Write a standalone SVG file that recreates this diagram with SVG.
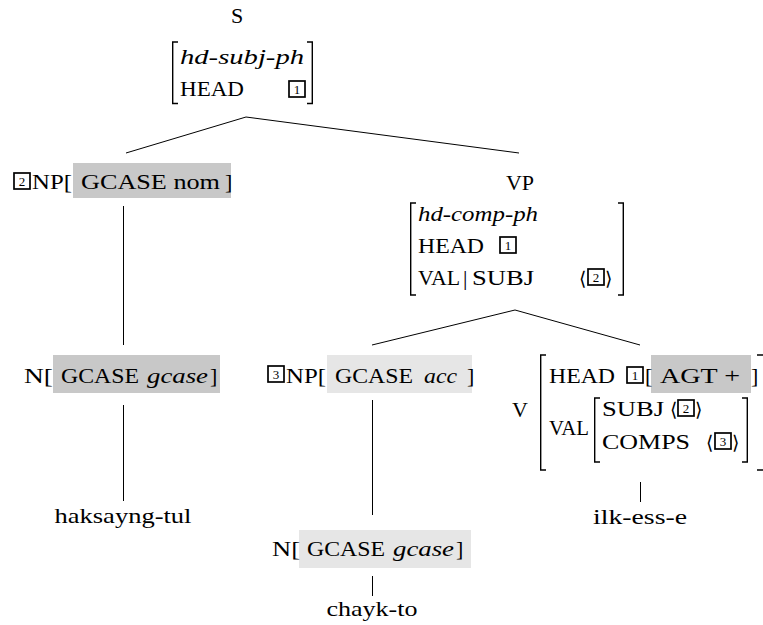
<svg xmlns="http://www.w3.org/2000/svg" width="763" height="625" viewBox="0 0 763 625" font-family="'Liberation Serif', 'Times New Roman', serif">
  <defs>
    <style>
      text { font-family: "Liberation Serif", "Times New Roman", serif; font-size: 22px; fill: #000; }
      .it { font-style: italic; }
      .mid { text-anchor: middle; }
      .tag { font-size: 13px; text-anchor: middle; }
      .box { fill: none; stroke: #000; stroke-width: 1.7; }
      .brk { fill: none; stroke: #000; stroke-width: 1.4; }
      .dark { fill: #c8c8c8; }
      .light { fill: #e6e6e6; }
      .edge { stroke: #000; stroke-width: 1; fill: none; }
      .ang { font-family: "DejaVu Serif", serif; font-size: 19px; }
    </style>
  </defs>
  <rect width="763" height="625" fill="#fff"/>

  <!-- tree branches -->
  <g id="connectors">
    <line class="edge" x1="246" y1="117" x2="126" y2="153"/>
    <line class="edge" x1="246" y1="117" x2="519" y2="153"/>
    <line class="edge" x1="123.5" y1="206" x2="123.5" y2="345"/>
    <line class="edge" x1="123.5" y1="405" x2="123.5" y2="501"/>
    <line class="edge" x1="515" y1="310" x2="372" y2="345"/>
    <line class="edge" x1="515" y1="310" x2="640" y2="345"/>
    <line class="edge" x1="372.5" y1="400" x2="372.5" y2="515"/>
    <line class="edge" x1="372.5" y1="576" x2="372.5" y2="596"/>
    <line class="edge" x1="640.5" y1="482" x2="640.5" y2="502"/>
  </g>

  <!-- root: S -->
  <g id="node-s">
    <text class="mid" x="237" y="23">S</text>
    <path class="brk" d="M178,42 H172.7 V103.5 H178"/>
    <path class="brk" d="M307,42 H312.3 V103.5 H307"/>
    <text class="it" x="180" y="64" textLength="124" lengthAdjust="spacingAndGlyphs">hd-subj-ph</text>
    <text x="180" y="96" textLength="64" lengthAdjust="spacingAndGlyphs">HEAD</text>
    <rect class="box" x="289" y="81" width="16" height="16"/>
    <text class="tag" x="297" y="94">1</text>
  </g>

  <!-- subject NP -->
  <g id="node-np-nom">
    <rect class="box" x="14" y="173" width="16" height="16"/>
    <text class="tag" x="22" y="186">2</text>
    <rect class="dark" x="73" y="163" width="158" height="35"/>
    <text x="32" y="189" textLength="40" lengthAdjust="spacingAndGlyphs">NP[</text>
    <text x="81" y="189" textLength="139" lengthAdjust="spacingAndGlyphs">GCASE nom</text>
    <text x="225" y="189">]</text>
  </g>

  <g id="node-n-subj">
    <rect class="dark" x="53" y="355" width="167" height="38"/>
    <text x="24" y="383" textLength="29" lengthAdjust="spacingAndGlyphs">N[</text>
    <text x="61" y="383" textLength="78" lengthAdjust="spacingAndGlyphs">GCASE</text>
    <text class="it" x="147" y="383" textLength="61" lengthAdjust="spacingAndGlyphs">gcase</text>
    <text x="210" y="383">]</text>
  </g>

  <g id="word-haksayng-tul">
    <text class="mid" x="123" y="523" textLength="137" lengthAdjust="spacingAndGlyphs">haksayng-tul</text>
  </g>

  <!-- VP -->
  <g id="node-vp">
    <text class="mid" x="520" y="190">VP</text>
    <path class="brk" d="M416,203 H410.7 V295 H416"/>
    <path class="brk" d="M618,203 H623.3 V295 H618"/>
    <text class="it" x="418" y="221" textLength="120" lengthAdjust="spacingAndGlyphs">hd-comp-ph</text>
    <text x="418" y="253" textLength="66" lengthAdjust="spacingAndGlyphs">HEAD</text>
    <rect class="box" x="500" y="237" width="16" height="16"/>
    <text class="tag" x="508" y="250">1</text>
    <text x="418" y="285" textLength="42" lengthAdjust="spacingAndGlyphs">VAL</text>
    <text x="463" y="285">|</text>
    <text x="472" y="285" textLength="62" lengthAdjust="spacingAndGlyphs">SUBJ</text>
    <text class="ang" x="579" y="285">⟨</text>
    <rect class="box" x="588" y="269" width="16" height="16"/>
    <text class="tag" x="596" y="282">2</text>
    <text class="ang" x="605" y="285">⟩</text>
  </g>

  <!-- object NP -->
  <g id="node-np-acc">
    <rect class="box" x="268" y="366" width="16" height="16"/>
    <text class="tag" x="276" y="379">3</text>
    <rect class="light" x="327" y="355" width="145" height="38"/>
    <text x="286" y="383" textLength="40" lengthAdjust="spacingAndGlyphs">NP[</text>
    <text x="335" y="383" textLength="78" lengthAdjust="spacingAndGlyphs">GCASE</text>
    <text class="it" x="424" y="383" textLength="33" lengthAdjust="spacingAndGlyphs">acc</text>
    <text x="467" y="383">]</text>
  </g>

  <g id="node-n-obj">
    <rect class="light" x="299" y="530" width="172" height="38"/>
    <text x="272" y="556" textLength="28" lengthAdjust="spacingAndGlyphs">N[</text>
    <text x="307" y="556" textLength="78" lengthAdjust="spacingAndGlyphs">GCASE</text>
    <text class="it" x="393" y="556" textLength="61" lengthAdjust="spacingAndGlyphs">gcase</text>
    <text x="456" y="556">]</text>
  </g>

  <g id="word-chayk-to">
    <text class="mid" x="372" y="616" textLength="91" lengthAdjust="spacingAndGlyphs">chayk-to</text>
  </g>

  <!-- verb -->
  <g id="node-v">
    <text x="512" y="417">V</text>
    <path class="brk" d="M546,355 H540.7 V470 H546"/>
    <path class="brk" d="M757,355 H763 M757,470 H763"/>
    <text x="549" y="383" textLength="66" lengthAdjust="spacingAndGlyphs">HEAD</text>
    <rect class="box" x="627" y="367" width="16" height="16"/>
    <text class="tag" x="635" y="380">1</text>
    <rect class="dark" x="651" y="355" width="100" height="38"/>
    <text x="645" y="383">[</text>
    <text x="660" y="383" textLength="80" lengthAdjust="spacingAndGlyphs">AGT +</text>
    <text x="751" y="383">]</text>
    <text x="549" y="435" textLength="40" lengthAdjust="spacingAndGlyphs">VAL</text>
    <path class="brk" d="M600,398 H594.7 V462 H600"/>
    <path class="brk" d="M742,398 H747.3 V462 H742"/>
    <text x="602" y="416" textLength="62" lengthAdjust="spacingAndGlyphs">SUBJ</text>
    <text class="ang" x="670" y="416">⟨</text>
    <rect class="box" x="678" y="400" width="16" height="16"/>
    <text class="tag" x="686" y="413">2</text>
    <text class="ang" x="695" y="416">⟩</text>
    <text x="602" y="449" textLength="88" lengthAdjust="spacingAndGlyphs">COMPS</text>
    <text class="ang" x="706" y="449">⟨</text>
    <rect class="box" x="715" y="433" width="16" height="16"/>
    <text class="tag" x="723" y="446">3</text>
    <text class="ang" x="732" y="449">⟩</text>
  </g>

  <g id="word-ilk-ess-e">
    <text class="mid" x="640" y="524" textLength="94" lengthAdjust="spacingAndGlyphs">ilk-ess-e</text>
  </g>
</svg>
